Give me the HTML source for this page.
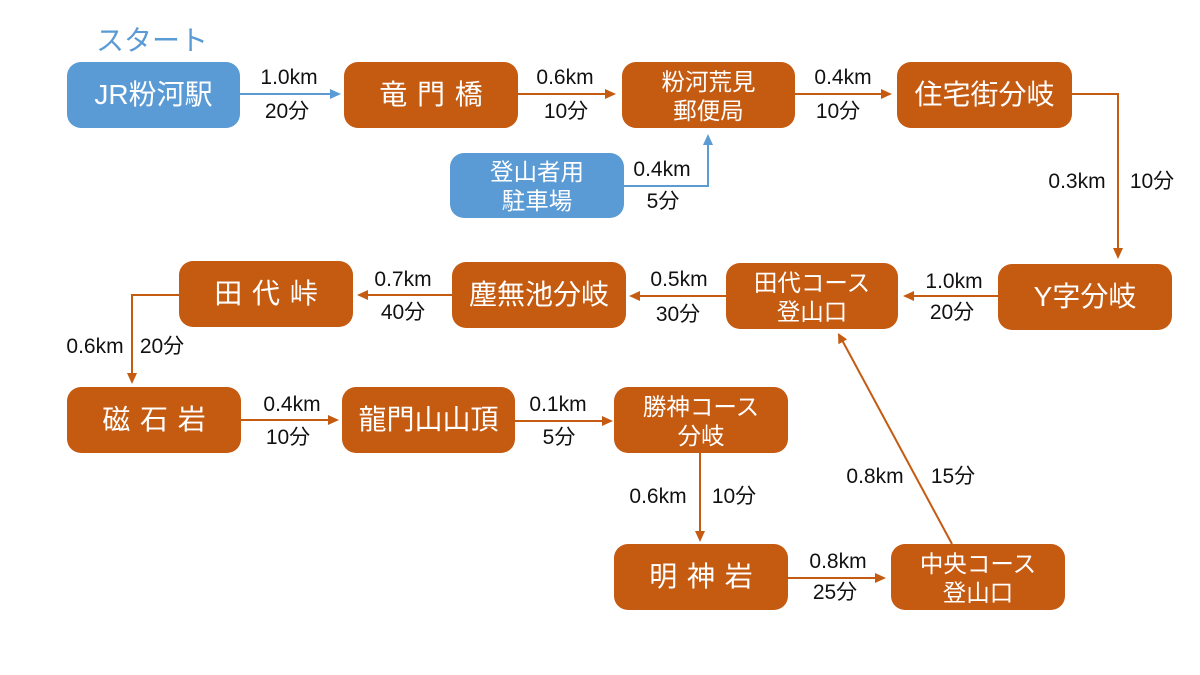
<!DOCTYPE html>
<html><head><meta charset="utf-8">
<style>
html,body{margin:0;padding:0;background:#fff;}
body{width:1200px;height:675px;position:relative;overflow:hidden;font-family:"Liberation Sans","Noto Sans CJK JP",sans-serif;}
.b{position:absolute;background:#C55A11;border-radius:14px;color:#fff;display:flex;align-items:center;justify-content:center;text-align:center;font-size:28px;line-height:30px;white-space:nowrap;}
.b.blue{background:#5B9BD5;}
.b.two{font-size:23.5px;line-height:29px;padding-top:3px;box-sizing:border-box;}
.l{position:absolute;font-size:21px;line-height:22px;color:#111;transform:translate(-50%,-50%);white-space:nowrap;}
svg{position:absolute;left:0;top:0;}
</style></head><body>
<svg width="1200" height="675" viewBox="0 0 1200 675">
<g stroke="#C55A11" stroke-width="2" fill="none">
<line x1="518" y1="94" x2="607" y2="94"/>
<line x1="795" y1="94" x2="883" y2="94"/>
<polyline points="1071,94 1118,94 1118,250"/>
<line x1="998" y1="296" x2="912" y2="296"/>
<line x1="726" y1="296" x2="638" y2="296"/>
<line x1="452" y1="295" x2="366" y2="295"/>
<polyline points="179,295 132,295 132,375"/>
<line x1="241" y1="420" x2="330" y2="420"/>
<line x1="515" y1="421" x2="604" y2="421"/>
<line x1="700" y1="453" x2="700" y2="533"/>
<line x1="788" y1="578" x2="877" y2="578"/>
<line x1="952" y1="544" x2="842" y2="340"/>
</g>
<g fill="#C55A11">
<polygon points="605,89 616,94 605,99"/>
<polygon points="881,89 892,94 881,99"/>
<polygon points="1113,248 1118,259 1123,248"/>
<polygon points="914,291 903,296 914,301"/>
<polygon points="640,291 629,296 640,301"/>
<polygon points="368,290 357,295 368,300"/>
<polygon points="127,373 132,384 137,373"/>
<polygon points="328,415 339,420 328,425"/>
<polygon points="602,416 613,421 602,426"/>
<polygon points="695,531 700,542 705,531"/>
<polygon points="875,573 886,578 875,583"/>
<polygon points="838,333 847.1,339.4 838.4,344.2"/>
</g>
<g stroke="#5B9BD5" stroke-width="2" fill="none">
<line x1="240" y1="94" x2="332" y2="94"/>
<polyline points="624,186 708,186 708,143"/>
</g>
<g fill="#5B9BD5">
<polygon points="330,89 341,94 330,99"/>
<polygon points="703,145 708,134 713,145"/>
</g>
</svg>

<div style="position:absolute;left:96px;top:24px;font-size:28px;line-height:34px;color:#5B9BD5;">スタート</div>

<div class="b blue" style="left:67px;top:62px;width:173px;height:66px;">JR粉河駅</div>
<div class="b" style="left:344px;top:62px;width:174px;height:66px;word-spacing:2px;">竜 門 橋</div>
<div class="b two" style="left:622px;top:62px;width:173px;height:66px;">粉河荒見<br>郵便局</div>
<div class="b" style="left:897px;top:62px;width:175px;height:66px;">住宅街分岐</div>
<div class="b blue two" style="left:450px;top:153px;width:174px;height:65px;">登山者用<br>駐車場</div>
<div class="b" style="left:998px;top:264px;width:174px;height:66px;">Y字分岐</div>
<div class="b two" style="left:726px;top:263px;width:172px;height:66px;">田代コース<br>登山口</div>
<div class="b" style="left:452px;top:262px;width:174px;height:66px;">塵無池分岐</div>
<div class="b" style="left:179px;top:261px;width:174px;height:66px;word-spacing:2px;">田 代 峠</div>
<div class="b" style="left:67px;top:387px;width:174px;height:66px;word-spacing:2px;">磁 石 岩</div>
<div class="b" style="left:342px;top:387px;width:173px;height:66px;">龍門山山頂</div>
<div class="b two" style="left:614px;top:387px;width:174px;height:66px;">勝神コース<br>分岐</div>
<div class="b" style="left:614px;top:544px;width:174px;height:66px;word-spacing:2px;">明 神 岩</div>
<div class="b two" style="left:891px;top:544px;width:174px;height:66px;">中央コース<br>登山口</div>

<div class="l" style="left:289px;top:78px;">1.0km</div>
<div class="l" style="left:287px;top:112px;">20分</div>
<div class="l" style="left:565px;top:78px;">0.6km</div>
<div class="l" style="left:566px;top:112px;">10分</div>
<div class="l" style="left:843px;top:78px;">0.4km</div>
<div class="l" style="left:838px;top:112px;">10分</div>
<div class="l" style="left:662px;top:170px;">0.4km</div>
<div class="l" style="left:663px;top:202px;">5分</div>
<div class="l" style="left:1077px;top:182px;">0.3km</div>
<div class="l" style="left:1152px;top:182px;">10分</div>
<div class="l" style="left:954px;top:282px;">1.0km</div>
<div class="l" style="left:952px;top:313px;">20分</div>
<div class="l" style="left:679px;top:280px;">0.5km</div>
<div class="l" style="left:678px;top:315px;">30分</div>
<div class="l" style="left:403px;top:280px;">0.7km</div>
<div class="l" style="left:403px;top:313px;">40分</div>
<div class="l" style="left:95px;top:347px;">0.6km</div>
<div class="l" style="left:162px;top:347px;">20分</div>
<div class="l" style="left:292px;top:405px;">0.4km</div>
<div class="l" style="left:288px;top:438px;">10分</div>
<div class="l" style="left:558px;top:405px;">0.1km</div>
<div class="l" style="left:559px;top:438px;">5分</div>
<div class="l" style="left:658px;top:497px;">0.6km</div>
<div class="l" style="left:734px;top:497px;">10分</div>
<div class="l" style="left:875px;top:477px;">0.8km</div>
<div class="l" style="left:953px;top:477px;">15分</div>
<div class="l" style="left:838px;top:562px;">0.8km</div>
<div class="l" style="left:835px;top:593px;">25分</div>
</body></html>
